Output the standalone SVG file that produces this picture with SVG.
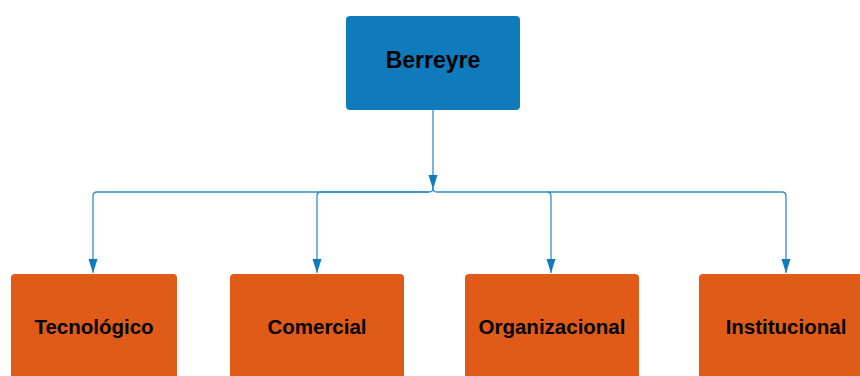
<svg xmlns="http://www.w3.org/2000/svg" width="860" height="376" viewBox="0 0 860 376">
<style>
.lbl{font-family:"Liberation Sans",Arial,sans-serif;font-weight:bold;fill:#000;text-anchor:middle}
.top{fill:#0f7bbd}
.child{fill:#e05b18}
.conn{fill:none;stroke:#2f8fcc;stroke-width:1.3}
</style>
<defs>
<marker id="ah" viewBox="0 0 14 10" refX="14" refY="5" markerWidth="14" markerHeight="10" markerUnits="userSpaceOnUse" orient="auto">
<path d="M0,0.5 L14,5 L0,9.5 Z" fill="#0f7bbd"/>
</marker>
</defs>
<g id="connectors">
<path class="conn" d="M433,110 V189" marker-end="url(#ah)"/>
<path class="conn" d="M433,188 Q433,192 429,192 H97 Q93,192 93,196 V273" marker-end="url(#ah)"/>
<path class="conn" d="M429,192 H321 Q317,192 317,196 V273" marker-end="url(#ah)"/>
<path class="conn" d="M433,188 Q433,192 437,192 H547 Q551,192 551,196 V273" marker-end="url(#ah)"/>
<path class="conn" d="M547,192 H782 Q786,192 786,196 V273" marker-end="url(#ah)"/>
</g>
<g id="berreyre">
<rect class="top" x="346" y="16" width="174" height="94" rx="4"/>
<text class="lbl" x="433" y="67.5" font-size="23">Berreyre</text>
</g>
<g id="tecnologico">
<rect class="child" x="11" y="274" width="166" height="110" rx="4"/>
<text class="lbl" x="94" y="334" font-size="20.5">Tecnológico</text>
</g>
<g id="comercial">
<rect class="child" x="230" y="274" width="174" height="110" rx="4"/>
<text class="lbl" x="317" y="334" font-size="20.5">Comercial</text>
</g>
<g id="organizacional">
<rect class="child" x="465" y="274" width="174" height="110" rx="4"/>
<text class="lbl" x="552" y="334" font-size="20.5">Organizacional</text>
</g>
<g id="institucional">
<rect class="child" x="699" y="274" width="174" height="110" rx="4"/>
<text class="lbl" x="786" y="334" font-size="20.5">Institucional</text>
</g>
</svg>
